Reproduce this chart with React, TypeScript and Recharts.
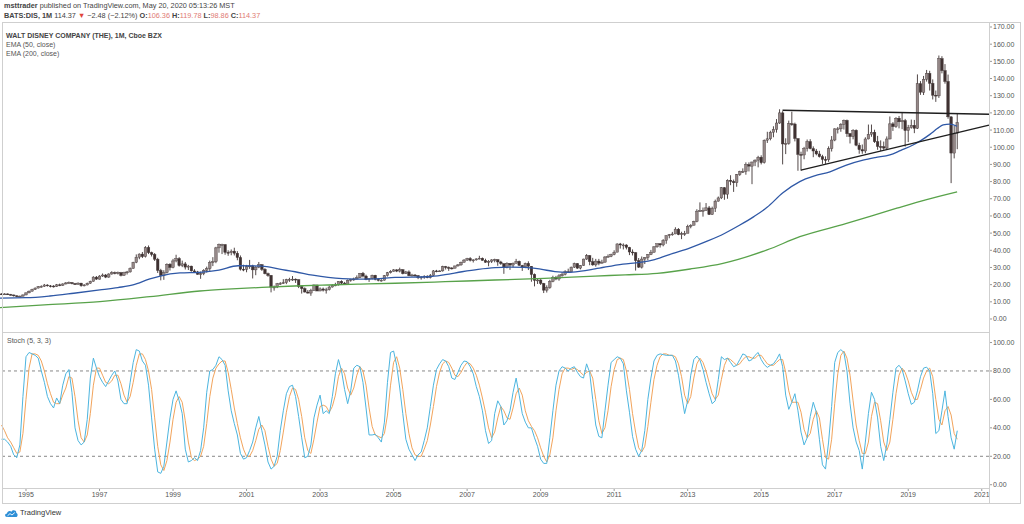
import React from 'react'
import { Bar, ComposedChart, Line, LineChart, ReferenceLine, XAxis, YAxis } from 'recharts'

// monthly bars, May 1994 .. May 2020
const firstMonth = 1994 + 4 / 12
const firstOpen = 14.6

const closes = [
  14.5, 14.6, 14.3, 14.0, 13.5, 13.2, 13.3, 14.0, // 1994
  15.2, 16.2, 17.2, 18.0, 18.8, 19.0, 19.8, 19.3, 19.2, 19.0, 19.9, 19.6, // 1995
  20.4, 21.0, 21.2, 20.6, 20.2, 20.9, 19.4, 19.8, 20.8, 21.9, 24.4, 23.2, // 1996
  25.0, 25.6, 24.4, 26.2, 27.0, 26.8, 27.0, 25.4, 26.9, 27.4, 29.4, 33.0, // 1997
  36.0, 37.8, 36.3, 41.6, 38.6, 37.6, 34.8, 28.3, 25.3, 27.0, 31.9, 30.0, // 1998
  33.8, 35.2, 31.1, 32.1, 30.2, 30.8, 28.0, 27.4, 26.0, 26.4, 28.4, 29.3, // 1999
  33.0, 33.3, 41.4, 43.3, 43.3, 38.8, 38.6, 39.5, 38.3, 35.8, 29.0, 28.9, // 2000
  30.5, 30.9, 28.6, 30.2, 31.6, 28.9, 26.4, 25.4, 18.6, 18.6, 20.5, 20.7, // 2001
  21.1, 23.0, 23.1, 23.2, 22.9, 18.9, 17.7, 15.7, 15.1, 16.7, 19.8, 16.3, // 2002
  17.5, 16.8, 17.0, 18.6, 19.6, 19.8, 21.9, 20.9, 20.2, 22.6, 23.1, 23.3, // 2003
  24.0, 26.6, 25.0, 23.0, 23.5, 25.5, 23.1, 22.5, 22.6, 25.2, 26.9, 27.8, // 2004
  28.6, 27.9, 28.7, 26.4, 27.4, 25.2, 25.6, 25.2, 24.1, 24.4, 24.9, 24.0, // 2005
  25.3, 28.0, 27.9, 28.0, 30.5, 30.0, 29.7, 29.6, 30.9, 31.5, 33.0, 34.3, // 2006
  35.2, 34.2, 34.4, 35.0, 35.4, 34.1, 33.0, 33.6, 34.4, 34.6, 33.2, 32.3, // 2007
  29.9, 32.4, 31.4, 32.4, 33.6, 31.2, 30.3, 32.4, 30.7, 25.9, 22.5, 22.7, // 2008
  20.7, 16.8, 18.2, 21.9, 24.2, 23.3, 25.1, 26.0, 27.5, 27.4, 30.2, 32.3, // 2009
  29.6, 31.2, 34.9, 36.9, 33.4, 31.5, 33.7, 32.5, 33.1, 36.1, 36.5, 37.5, // 2010
  38.9, 43.7, 43.1, 43.1, 41.7, 39.0, 38.6, 34.0, 30.2, 34.9, 35.8, 37.5, // 2011
  38.9, 42.0, 43.8, 43.1, 45.7, 48.5, 49.1, 49.5, 52.3, 49.1, 49.7, 49.8, // 2012
  53.9, 54.6, 56.8, 62.8, 63.1, 63.2, 64.7, 60.8, 64.5, 68.6, 70.5, 76.4, // 2013
  72.6, 80.8, 80.1, 79.3, 84.0, 85.7, 85.9, 89.9, 89.0, 91.4, 92.5, 94.2, // 2014
  91.0, 104.1, 104.9, 108.7, 110.4, 114.1, 120.0, 101.9, 102.2, 113.7, 113.5, 105.1, // 2015
  95.8, 95.5, 99.3, 103.3, 99.2, 97.8, 96.1, 94.5, 92.9, 92.7, 99.1, 104.2, // 2016
  110.7, 110.7, 113.4, 115.6, 107.9, 106.2, 109.9, 101.2, 98.6, 97.8, 104.8, 107.5, // 2017
  108.7, 103.2, 100.4, 100.3, 99.5, 104.8, 113.6, 112.0, 116.9, 114.8, 115.5, 109.7, // 2018
  111.5, 112.8, 111.0, 137.0, 132.0, 139.6, 143.0, 137.2, 130.3, 129.9, 151.6, 144.6, // 2019
  138.3, 117.7, 96.6, 108.2, 114.37, // 2020
]

const highs = [
  15.0, 15.0, 14.9, 14.6, 14.2, 13.8, 13.7, 14.3,
  15.5, 16.6, 17.6, 18.4, 19.2, 19.6, 20.4, 20.2, 19.8, 19.7, 20.4, 20.6,
  20.8, 21.5, 21.8, 21.5, 21.0, 21.3, 21.0, 20.3, 21.2, 22.3, 24.9, 25.0,
  25.5, 26.5, 26.2, 26.6, 27.8, 27.6, 27.6, 27.4, 27.5, 28.0, 30.0, 33.3,
  37.6, 38.2, 39.0, 42.4, 42.8, 39.2, 38.4, 35.6, 29.2, 28.4, 32.4, 32.5,
  35.0, 37.4, 36.0, 34.0, 33.2, 31.5, 31.0, 29.0, 28.0, 27.6, 29.0, 30.5,
  34.0, 36.0, 42.0, 43.9, 43.8, 43.6, 40.0, 40.5, 41.5, 39.5, 37.0, 31.6,
  31.5, 34.4, 31.6, 30.8, 33.2, 32.0, 29.6, 27.0, 25.6, 19.5, 21.0, 21.5,
  23.2, 23.4, 24.0, 25.0, 23.6, 23.0, 19.6, 18.4, 16.9, 17.6, 20.1, 19.9,
  18.4, 18.3, 18.2, 19.4, 20.2, 21.1, 22.0, 22.5, 21.6, 23.0, 23.4, 24.1,
  25.4, 26.8, 27.4, 25.8, 23.8, 25.8, 25.7, 23.8, 23.2, 25.6, 27.4, 28.4,
  29.0, 29.0, 29.9, 29.0, 28.0, 28.3, 26.3, 26.2, 25.6, 25.0, 25.5, 25.5,
  26.2, 28.5, 28.6, 28.3, 31.0, 30.9, 30.6, 30.2, 31.0, 32.0, 33.4, 34.9,
  35.6, 36.0, 34.8, 35.3, 36.8, 35.8, 35.1, 34.3, 34.8, 35.1, 34.6, 33.9,
  32.2, 33.0, 32.5, 32.9, 35.0, 34.0, 31.5, 32.8, 33.6, 30.8, 26.5, 23.5,
  23.2, 21.0, 19.6, 22.8, 25.2, 25.1, 26.1, 27.2, 28.4, 29.3, 30.5, 32.8,
  32.5, 31.4, 35.1, 37.8, 37.2, 35.6, 35.0, 35.0, 34.5, 36.6, 37.6, 38.0,
  40.0, 44.0, 44.3, 44.0, 43.5, 42.0, 40.5, 38.9, 35.5, 36.4, 36.0, 37.8,
  40.2, 42.4, 44.0, 44.2, 46.5, 48.7, 49.5, 50.7, 53.4, 52.9, 50.8, 51.3,
  54.9, 55.2, 57.2, 63.9, 67.9, 64.9, 67.5, 65.8, 65.4, 69.5, 71.3, 76.8,
  76.8, 81.3, 83.7, 81.2, 84.4, 86.3, 87.7, 91.2, 91.2, 91.6, 92.9, 95.0,
  95.3, 104.5, 109.0, 109.6, 112.2, 116.4, 122.1, 121.0, 105.2, 115.5, 120.7, 114.3,
  105.0, 97.4, 100.2, 104.5, 104.7, 100.5, 99.0, 97.9, 95.6, 94.7, 100.5, 106.5,
  111.0, 111.8, 114.0, 116.1, 116.1, 108.3, 110.5, 110.4, 102.6, 101.6, 105.8, 113.2,
  113.2, 110.2, 106.6, 104.0, 103.3, 106.3, 117.9, 114.6, 117.5, 118.2, 120.2, 116.5,
  113.0, 116.1, 115.9, 142.4, 138.5, 141.5, 145.0, 144.5, 139.5, 133.0, 153.4, 153.0,
  148.4, 142.3, 118.0, 112.4, 119.78,
]

const lows = [
  14.0, 14.1, 14.0, 13.7, 13.0, 12.7, 12.6, 13.1,
  13.8, 15.0, 16.0, 16.9, 17.8, 18.3, 18.7, 18.9, 18.4, 18.3, 18.7, 19.1,
  19.3, 20.1, 20.6, 20.2, 19.8, 20.0, 18.8, 19.0, 19.6, 20.5, 21.8, 22.8,
  23.0, 24.5, 23.8, 24.0, 25.8, 26.0, 25.9, 24.8, 25.2, 25.9, 27.0, 29.3,
  32.5, 34.8, 35.5, 35.8, 37.8, 36.4, 33.8, 26.8, 22.5, 22.8, 26.5, 28.2,
  29.5, 33.0, 30.5, 30.2, 28.8, 28.5, 27.6, 26.8, 25.8, 23.4, 25.5, 27.0,
  28.0, 30.8, 32.5, 38.6, 37.8, 37.4, 36.8, 37.1, 37.0, 34.2, 28.2, 27.8,
  27.2, 29.2, 23.6, 25.5, 29.6, 28.0, 26.0, 24.6, 15.5, 16.5, 18.0, 19.9,
  20.4, 20.3, 21.6, 22.2, 21.0, 18.0, 14.8, 15.4, 14.8, 13.5, 16.4, 16.2,
  16.2, 16.0, 14.8, 16.6, 18.3, 19.1, 19.5, 20.3, 19.8, 20.0, 21.7, 22.2,
  23.0, 23.8, 24.2, 22.6, 21.6, 23.0, 22.5, 21.9, 21.8, 22.4, 24.7, 26.5,
  27.6, 27.3, 27.1, 26.0, 26.2, 25.0, 24.7, 24.7, 23.2, 22.9, 23.4, 23.7,
  23.6, 25.0, 27.2, 27.4, 27.6, 28.8, 28.0, 28.8, 29.4, 30.5, 31.0, 32.9,
  33.8, 33.5, 32.9, 34.0, 34.7, 34.0, 32.7, 30.7, 32.6, 33.0, 31.0, 31.5,
  26.3, 29.5, 28.6, 30.0, 32.3, 31.0, 28.0, 29.6, 28.5, 21.7, 19.0, 20.4,
  19.8, 15.1, 15.4, 17.6, 21.4, 22.6, 22.3, 24.7, 25.4, 27.0, 27.3, 29.7,
  29.2, 28.9, 31.0, 34.4, 31.3, 31.0, 30.5, 31.3, 32.3, 32.8, 35.8, 36.0,
  37.1, 38.9, 41.0, 40.5, 40.5, 37.2, 37.0, 28.2, 29.7, 29.4, 32.0, 34.2,
  37.2, 38.6, 41.5, 41.6, 42.3, 43.8, 47.0, 48.5, 49.4, 48.8, 46.5, 48.4,
  50.2, 52.8, 54.5, 56.3, 62.4, 59.6, 63.0, 60.6, 60.7, 62.3, 68.4, 69.8,
  69.4, 70.0, 77.9, 74.0, 77.0, 83.3, 85.0, 84.0, 85.9, 78.5, 89.0, 88.3,
  90.0, 90.5, 102.5, 104.0, 105.8, 108.5, 113.6, 90.0, 96.0, 101.5, 112.5, 103.4,
  86.3, 86.3, 93.0, 97.5, 98.8, 94.2, 95.3, 94.0, 90.3, 90.3, 91.5, 97.5,
  103.5, 108.0, 109.0, 110.3, 106.0, 102.2, 104.6, 100.6, 96.2, 96.2, 96.5, 104.6,
  106.1, 102.5, 98.5, 97.8, 98.5, 98.7, 104.6, 109.5, 111.3, 111.0, 110.5, 100.4,
  103.0, 110.8, 108.2, 110.6, 130.5, 130.4, 138.2, 133.0, 127.8, 126.4, 128.7, 143.0,
  137.0, 116.6, 79.1, 93.5, 98.86,
]

// Stoch (5, 3, 3): %K and %D, same months
const stochK = [
  32, 32, 30, 27, 21, 19, 28, 62,
  90, 93, 92, 91, 89, 80, 72, 62, 57, 54, 61, 57,
  70, 78, 81, 65, 40, 31, 28, 30, 46, 75, 89, 82,
  76, 72, 69, 73, 77, 80, 73, 60, 57, 57, 72, 86,
  95, 94, 87, 84, 70, 47, 25, 9, 8, 13, 30, 47,
  60, 66, 59, 50, 25, 16, 17, 19, 17, 24, 40, 65,
  80, 81, 84, 90, 88, 84, 66, 52, 43, 35, 22, 18,
  19, 24, 30, 40, 48, 38, 28, 16, 11, 13, 20, 38,
  52, 64, 69, 70, 62, 48, 33, 19, 20, 28, 47, 56,
  63, 50, 52, 50, 62, 78, 88, 80, 67, 57, 66, 82,
  84, 83, 72, 54, 35, 35, 35.5, 33, 30, 44, 72, 93,
  94, 84, 68, 50, 32, 25, 21, 17, 21, 23, 31, 40,
  55, 70, 81, 85, 88, 87, 83, 75, 74, 79, 84, 87,
  86.5, 83, 78, 69, 62, 52, 38, 29, 31, 50, 59, 55,
  42, 45, 52, 65, 75, 63, 50, 44, 40, 40, 33, 27,
  18, 15, 15, 33, 52, 70, 80, 83, 82, 80, 82, 83,
  79, 76, 75, 85, 79, 60, 42, 34, 33, 52, 70, 86,
  88, 90, 89, 85, 66, 51, 34, 25, 20, 24, 38, 60,
  75, 87, 91, 92, 91.5, 91, 91, 91, 87, 77, 63, 50,
  59, 77, 88, 90.5, 87.7, 81, 72, 64, 57, 59, 74, 90,
  88, 89, 86, 83, 84, 88, 92, 91, 87, 88, 91, 93,
  88, 84.5, 82.5, 84, 85, 88, 92, 83, 63, 53, 58, 64,
  52, 37, 28, 33, 48, 58, 51, 32, 14, 11, 30, 55,
  86, 93, 95, 93, 80, 57, 40, 30, 24, 11, 30, 50,
  65, 60, 47, 27, 17, 28, 46, 65, 82, 84, 81, 73,
  64, 56.5, 58, 66, 76, 82, 82.7, 80, 64, 36, 38, 52,
  66, 48, 33, 25, 38,
]

const stochD = [
  42, 38, 33, 30, 26, 22, 23, 36,
  60, 82, 92, 92, 91, 87, 80, 71, 64, 58, 57, 57,
  63, 68, 76, 75, 62, 45, 33, 30, 35, 50, 70, 82,
  82, 77, 72, 71, 73, 77, 77, 71, 63, 58, 62, 72,
  84, 92, 92, 88, 80, 67, 47, 27, 14, 10, 17, 30,
  46, 58, 62, 58, 45, 30, 19, 17, 18, 20, 27, 43,
  62, 75, 82, 85, 87, 87, 79, 67, 54, 43, 33, 25,
  20, 20, 24, 31, 39, 42, 38, 27, 18, 13, 15, 24,
  37, 51, 62, 68, 67, 60, 48, 33, 24, 22, 32, 44,
  55, 56, 55, 51, 55, 63, 76, 82, 78, 68, 63, 68,
  77, 83, 80, 70, 54, 41, 35, 34, 33, 36, 49, 70,
  86, 90, 82, 67, 50, 36, 26, 21, 20, 20, 25, 31,
  42, 55, 69, 79, 85, 87, 86, 82, 77, 76, 79, 83,
  86, 85, 82, 77, 70, 61, 51, 40, 33, 37, 47, 55,
  52, 47, 46, 54, 64, 68, 63, 52, 45, 41, 38, 33,
  26, 20, 16, 21, 33, 52, 67, 78, 82, 82, 81, 82,
  81, 79, 77, 79, 80, 75, 60, 45, 36, 40, 52, 69,
  81, 88, 89, 88, 80, 67, 50, 37, 26, 23, 27, 41,
  58, 74, 84, 90, 92, 92, 91, 91, 90, 85, 76, 63,
  57, 62, 75, 85, 89, 86, 80, 72, 64, 60, 63, 74,
  84, 89, 88, 86, 84, 85, 88, 90, 90, 89, 89, 91,
  91, 88, 85, 84, 84, 86, 88, 88, 79, 66, 58, 58,
  58, 51, 39, 33, 36, 46, 52, 47, 32, 19, 18, 32,
  57, 78, 91, 94, 89, 77, 59, 42, 31, 22, 22, 30,
  48, 58, 57, 45, 30, 24, 30, 46, 64, 77, 82, 79,
  73, 65, 60, 60, 67, 75, 80, 82, 76, 60, 46, 42,
  52, 55, 49, 36, 32,
]

// EMA lines (year, value)
const ema50Times = [
  1994.29, 1995.0, 1995.65, 1996.3, 1997.01, 1997.5, 1997.91, 1998.37, 1998.65, 1999.19,
  1999.73, 2000.25, 2000.77, 2001.42, 2001.9, 2002.32, 2002.8, 2003.22, 2003.95, 2004.5,
  2005.04, 2005.94, 2006.4, 2006.86, 2007.3, 2007.76, 2008.2, 2008.57, 2009.0, 2009.39,
  2009.74, 2010.1, 2010.48, 2011.24, 2011.7, 2012.1, 2012.6, 2013.05, 2013.53, 2014.0,
  2014.42, 2014.8, 2015.16, 2015.59, 2016.05, 2016.45, 2016.87, 2017.3, 2017.77, 2018.1,
  2018.5, 2018.8, 2019.13, 2019.35, 2019.59, 2019.8, 2019.95, 2020.13, 2020.33,
]
const ema50Values = [
  12.2, 12.4, 13.4, 15.0, 16.9, 18.3, 19.8, 23.3, 25.0, 26.8,
  27.2, 28.5, 31.0, 30.8, 29.0, 27.5, 25.5, 24.2, 23.2, 23.4,
  24.2, 24.6, 25.8, 27.5, 28.9, 29.9, 30.2, 30.1, 29.0, 27.6,
  27.2, 27.9, 29.2, 32.0, 33.0, 34.6, 38.2, 41.3, 45.3, 49.8,
  54.7, 59.6, 65.0, 73.5, 80.0, 83.3, 85.7, 89.5, 92.5, 94.0,
  95.5, 98.2, 101.3, 104.0, 107.5, 111.0, 113.0, 113.5, 112.2,
]

const ema200Times = [
  1994.29, 1995.5, 1997.01, 1998.37, 1999.73, 2000.6, 2001.42, 2002.3, 2003.22, 2004.1,
  2005.04, 2006.4, 2007.76, 2009.1, 2010.48, 2011.3, 2012.17, 2013.07, 2013.96, 2015.16,
  2016.05, 2017.3, 2018.69, 2019.5, 2020.33,
]
const ema200Values = [
  6.6, 8.2, 10.1, 13.0, 16.3, 17.5, 18.4, 19.2, 19.8, 20.3,
  20.8, 21.7, 22.7, 23.6, 25.0, 25.7, 26.6, 29.1, 32.4, 40.2,
  47.9, 55.5, 64.5, 69.5, 74.0,
]

// drawn trend lines: [x1, y1, x2, y2]
const trendLines = [
  [2015.58, 121.5, 2021.197, 119.2],
  [2016.08, 86.7, 2021.197, 112.9],
]

const priceTicks = [0, 10, 20, 30, 40, 50, 60, 70, 80, 90, 100, 110, 120, 130, 140, 150, 160, 170]
const stochTicks = [0, 20, 40, 60, 80, 100]
const yearTicks = [1995, 1997, 1999, 2001, 2003, 2005, 2007, 2009, 2011, 2013, 2015, 2017, 2019, 2021]

const xDomain = [1994.2928, 2021.197]
const font = 'Liberation Sans, Arial, sans-serif'
const tickStyle = { fontSize: 7, fill: '#555', fontFamily: font }

const candles = closes.map((c, i) => ({
  t: firstMonth + i / 12,
  o: i === 0 ? firstOpen : closes[i - 1],
  h: highs[i],
  l: lows[i],
  c,
}))

const stochData = stochK.map((k, i) => ({ t: firstMonth + i / 12, k, d: stochD[i] }))
const ema50 = ema50Times.map((t, i) => ({ t, v: ema50Values[i] }))
const ema200 = ema200Times.map((t, i) => ({ t, v: ema200Values[i] }))

const Candle = (props: any) => {
  const { x, y, width, height, payload } = props
  if (!payload || height == null || isNaN(y)) return null
  const top = Math.min(y, y + height)
  const h = Math.abs(height)
  const ppu = h / (payload.h - payload.l || 1)
  const cx = x + width / 2
  const yo = top + (payload.h - payload.o) * ppu
  const yc = top + (payload.h - payload.c) * ppu
  const up = payload.c >= payload.o
  return (
    <g>
      <line x1={cx} x2={cx} y1={top} y2={top + h} stroke="#3f3434" strokeWidth={0.9} />
      <rect
        x={cx - 1.3}
        y={Math.min(yo, yc)}
        width={2.6}
        height={Math.max(Math.abs(yo - yc), 0.9)}
        fill={up ? '#958888' : '#3f3131'}
        stroke="#3f3434"
        strokeWidth={0.4}
      />
    </g>
  )
}

const Logo = () => (
  <svg width={14} height={10} viewBox="0 0 14 10" style={{ position: 'absolute', left: 4, top: 508 }}>
    <path d="M3 9 C0.5 9 0.5 5.5 3 5.5 C3.2 3 6 2 7.5 3.8 C8.5 1.5 12.5 2 12.3 5 C14.2 5.5 14 9 11.8 9 Z" fill="#2e8fd6" />
    <path d="M3.5 7.8 L6 5.6 L8 7 L10.8 4.6" stroke="#fff" strokeWidth={0.9} fill="none" />
  </svg>
)

export default function App() {
  const frame = '#cfcfcf'
  const line = (style: React.CSSProperties) => <div style={{ position: 'absolute', background: frame, ...style }} />
  return (
    <div style={{ position: 'relative', width: 1024, height: 524, background: '#fff', fontFamily: font, overflow: 'hidden' }}>
      <style>{'body{margin:0}'}</style>

      <div style={{ position: 'absolute', left: 4, top: 1, fontSize: 7.3, color: '#444', whiteSpace: 'nowrap' }}>
        <b>msttrader</b> published on TradingView.com, May 20, 2020 05:13:26 MST
      </div>
      <div style={{ position: 'absolute', left: 4, top: 11, fontSize: 7.3, color: '#444', whiteSpace: 'nowrap' }}>
        <b>BATS:DIS, 1M</b> 114.37 <span style={{ color: '#e0443c' }}>▼</span> −2.48 (−2.12%){' '}
        <b>O:</b><span style={{ color: '#e07b74' }}>106.36</span> <b>H:</b><span style={{ color: '#e07b74' }}>119.78</span>{' '}
        <b>L:</b><span style={{ color: '#e07b74' }}>98.86</span> <b>C:</b><span style={{ color: '#e07b74' }}>114.37</span>
      </div>

      <div style={{ position: 'absolute', left: 0, top: 22 }}>
        <ComposedChart width={1024} height={310} data={candles} margin={{ top: 0, right: 0, bottom: 0, left: 0 }}>
          <XAxis dataKey="t" type="number" domain={xDomain} allowDataOverflow hide />
          <YAxis
            orientation="right"
            width={35}
            domain={[-7.57, 172.91]}
            allowDataOverflow
            ticks={priceTicks}
            interval={0}
            tickFormatter={(v: number) => v.toFixed(2)}
            tickSize={3}
            tickMargin={1}
            axisLine={false}
            tickLine={{ stroke: '#999' }}
            tick={tickStyle}
          />
          <Line data={ema200} dataKey="v" type="monotone" stroke="#58a24a" strokeWidth={1.3} dot={false} isAnimationActive={false} />
          <Line data={ema50} dataKey="v" type="monotone" stroke="#2f58a6" strokeWidth={1.3} dot={false} isAnimationActive={false} />
          <Bar dataKey={(d: any) => [d.l, d.h]} barSize={2} shape={(p: any) => <Candle {...p} />} isAnimationActive={false} />
          {trendLines.map((s, i) => (
            <ReferenceLine
              key={i}
              segment={[{ x: s[0], y: s[1] }, { x: s[2], y: s[3] }]}
              stroke="#1e1e1e"
              strokeWidth={1.4}
              ifOverflow="visible"
            />
          ))}
        </ComposedChart>
      </div>

      <div style={{ position: 'absolute', left: 6, top: 31, fontSize: 7, color: '#555', lineHeight: '9px', whiteSpace: 'nowrap' }}>
        <div style={{ fontWeight: 'bold', color: '#444' }}>WALT DISNEY COMPANY (THE), 1M, Cboe BZX</div>
        <div>EMA (50, close)</div>
        <div>EMA (200, close)</div>
      </div>

      <div style={{ position: 'absolute', left: 0, top: 332 }}>
        <LineChart width={1024} height={172} data={stochData} margin={{ top: 0, right: 0, bottom: 0, left: 0 }}>
          <XAxis
            dataKey="t"
            type="number"
            domain={xDomain}
            allowDataOverflow
            ticks={yearTicks}
            interval={0}
            tickFormatter={(v: number) => String(v)}
            height={16}
            tickSize={3}
            tickMargin={1}
            axisLine={false}
            tickLine={{ stroke: '#999' }}
            tick={tickStyle}
          />
          <YAxis
            orientation="right"
            width={35}
            domain={[-2.3, 107.4]}
            allowDataOverflow
            ticks={stochTicks}
            interval={0}
            tickFormatter={(v: number) => v.toFixed(2)}
            tickSize={3}
            tickMargin={1}
            axisLine={false}
            tickLine={{ stroke: '#999' }}
            tick={tickStyle}
          />
          <ReferenceLine y={80} stroke="#888" strokeDasharray="3 3" />
          <ReferenceLine y={20} stroke="#888" strokeDasharray="3 3" />
          <Line dataKey="d" type="linear" stroke="#f2a45c" strokeWidth={1} dot={false} isAnimationActive={false} />
          <Line dataKey="k" type="linear" stroke="#4cb5df" strokeWidth={1} dot={false} isAnimationActive={false} />
        </LineChart>
      </div>

      <div style={{ position: 'absolute', left: 7, top: 337, fontSize: 7, color: '#555' }}>Stoch (5, 3, 3)</div>

      {line({ left: 2, top: 22, width: 1019, height: 1 })}
      {line({ left: 2, top: 22, width: 1, height: 481 })}
      {line({ left: 1020, top: 22, width: 1, height: 481 })}
      {line({ left: 2, top: 332, width: 987, height: 1 })}
      {line({ left: 2, top: 488, width: 987, height: 1 })}
      {line({ left: 2, top: 503, width: 1019, height: 1 })}
      {line({ left: 989, top: 22, width: 1, height: 481 })}

      <Logo />
      <div style={{ position: 'absolute', left: 20, top: 508, fontSize: 7.5, color: '#333' }}>TradingView</div>
    </div>
  )
}
